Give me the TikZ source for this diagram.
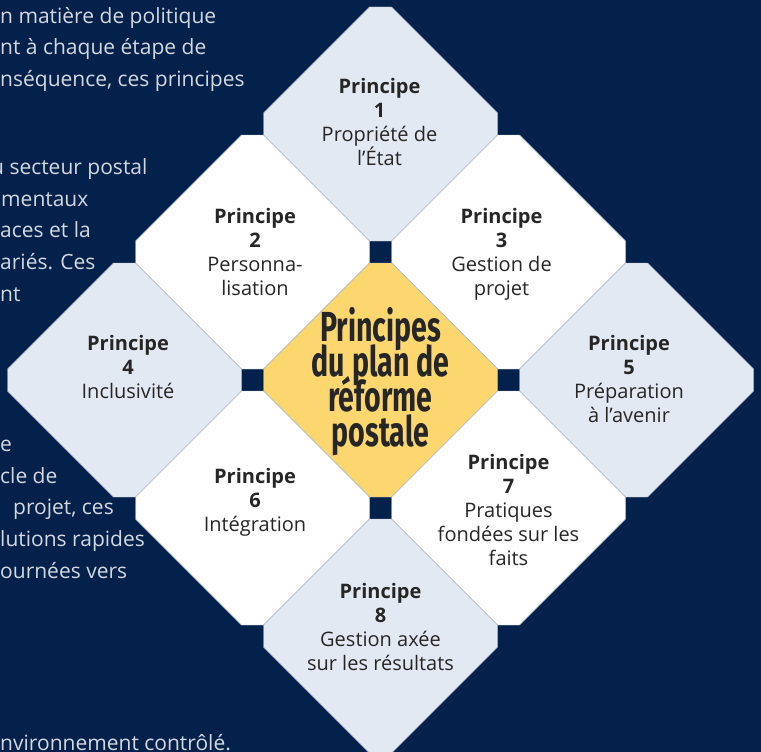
\documentclass[tikz,border=0pt]{standalone}
\usepackage{fontspec}
\setmainfont{Open Sans}
\newfontfamily\titlefont[FakeStretch=0.68]{Fira Sans}
\definecolor{navy}{HTML}{03214A}
\definecolor{paleblue}{HTML}{E3E9F3}
\definecolor{gold}{HTML}{FCD66E}
\definecolor{ink}{HTML}{262626}
\definecolor{mist}{HTML}{D3D8E0}
\definecolor{tileline}{HTML}{B4BAC6}
\begin{document}
\begin{tikzpicture}[x=1pt, y=-1pt,
        tile/.style={draw=tileline, line width=0.4pt},
        tiletext/.style={align=center, text=ink, inner sep=0pt, font=\fontsize{20}{24}\selectfont},
        bodyline/.style={anchor=base west, inner sep=0pt, text=mist, font=\fontsize{21}{24}\selectfont}]

        \fill [navy] (0,0) rectangle (761,752);
        \clip (0,0) rectangle (761,752);

        % text running behind the tiles
        \node (body1) [bodyline] at (0,24) {n matière de politique};
        \node (body2) [bodyline] at (0,55) {nt à chaque étape de};
        \node (body3) [bodyline] at (0,87) {nséquence, ces principes};
        \node (body4) [bodyline] at (-9,174) {u secteur postal};
        \node (body5) [bodyline] at (1,206) {mentaux};
        \node (body6) [bodyline] at (0,237) {aces et la};
        \node (body7) [bodyline] at (0,269) {ariés. Ces};
        \node (body8) [bodyline] at (0,301) {nt};
        \node (body9) [bodyline] at (0,451) {e};
        \node (body10) [bodyline] at (0,483) {cle de};
        \node (body11) [bodyline] at (13,514) {projet, ces};
        \node (body12) [bodyline] at (0,546) {lutions rapides};
        \node (body13) [bodyline] at (0,578) {ournées vers};
        \node (body14) [bodyline] at (0,750) {nvironnement contrôlé.};

        % tiles
        \foreach \cx/\cy/\tint in {380.5/124/paleblue, 252.5/252/white, 508.5/252/white,
                124.5/380/paleblue, 380.5/380/gold, 636.5/380/paleblue,
                252.5/508/white, 508.5/508/white, 380.5/636/paleblue}
            \filldraw [tile, fill=\tint] (\cx-11,\cy-117) -- (\cx+11,\cy-117) -- (\cx+117,\cy-11)
                -- (\cx+117,\cy+11) -- (\cx+11,\cy+117) -- (\cx-11,\cy+117)
                -- (\cx-117,\cy+11) -- (\cx-117,\cy-11) -- cycle;

        \node (centre) [align=center, text=ink, inner sep=0pt, font={\titlefont\bfseries\fontsize{42}{35}\selectfont\setlength{\lineskiplimit}{-40pt}}] at (380.5,382) {Principes\\du plan de\\réforme\\postale};

        \node (ownership) [tiletext] at (379.5,121.5) {\textbf{Principe}\\\textbf{1}\\Propriété de\\l’État};
        \node (personal) [tiletext] at (255,251.5) {\textbf{Principe}\\\textbf{2}\\Personna-\\lisation};
        \node (projects) [tiletext] at (501.5,254.5) {\textbf{Principe}\\\textbf{3}\\Gestion de\\projet};
        \node (inclusion) [tiletext] at (128,366.5) {\textbf{Principe}\\\textbf{4}\\Inclusivité};
        \node (future) [tiletext] at (629,378.5) {\textbf{Principe}\\\textbf{5}\\Préparation\\à l’avenir};
        \node (integration) [tiletext] at (255,502) {\textbf{Principe}\\\textbf{6}\\Intégration};
        \node (evidence) [tiletext] at (508.5,510) {\textbf{Principe}\\\textbf{7}\\Pratiques\\fondées sur les\\faits};
        \node (results) [tiletext] at (380.5,627) {\textbf{Principe}\\\textbf{8}\\Gestion axée\\sur les résultats};
    \end{tikzpicture}
\end{document}
